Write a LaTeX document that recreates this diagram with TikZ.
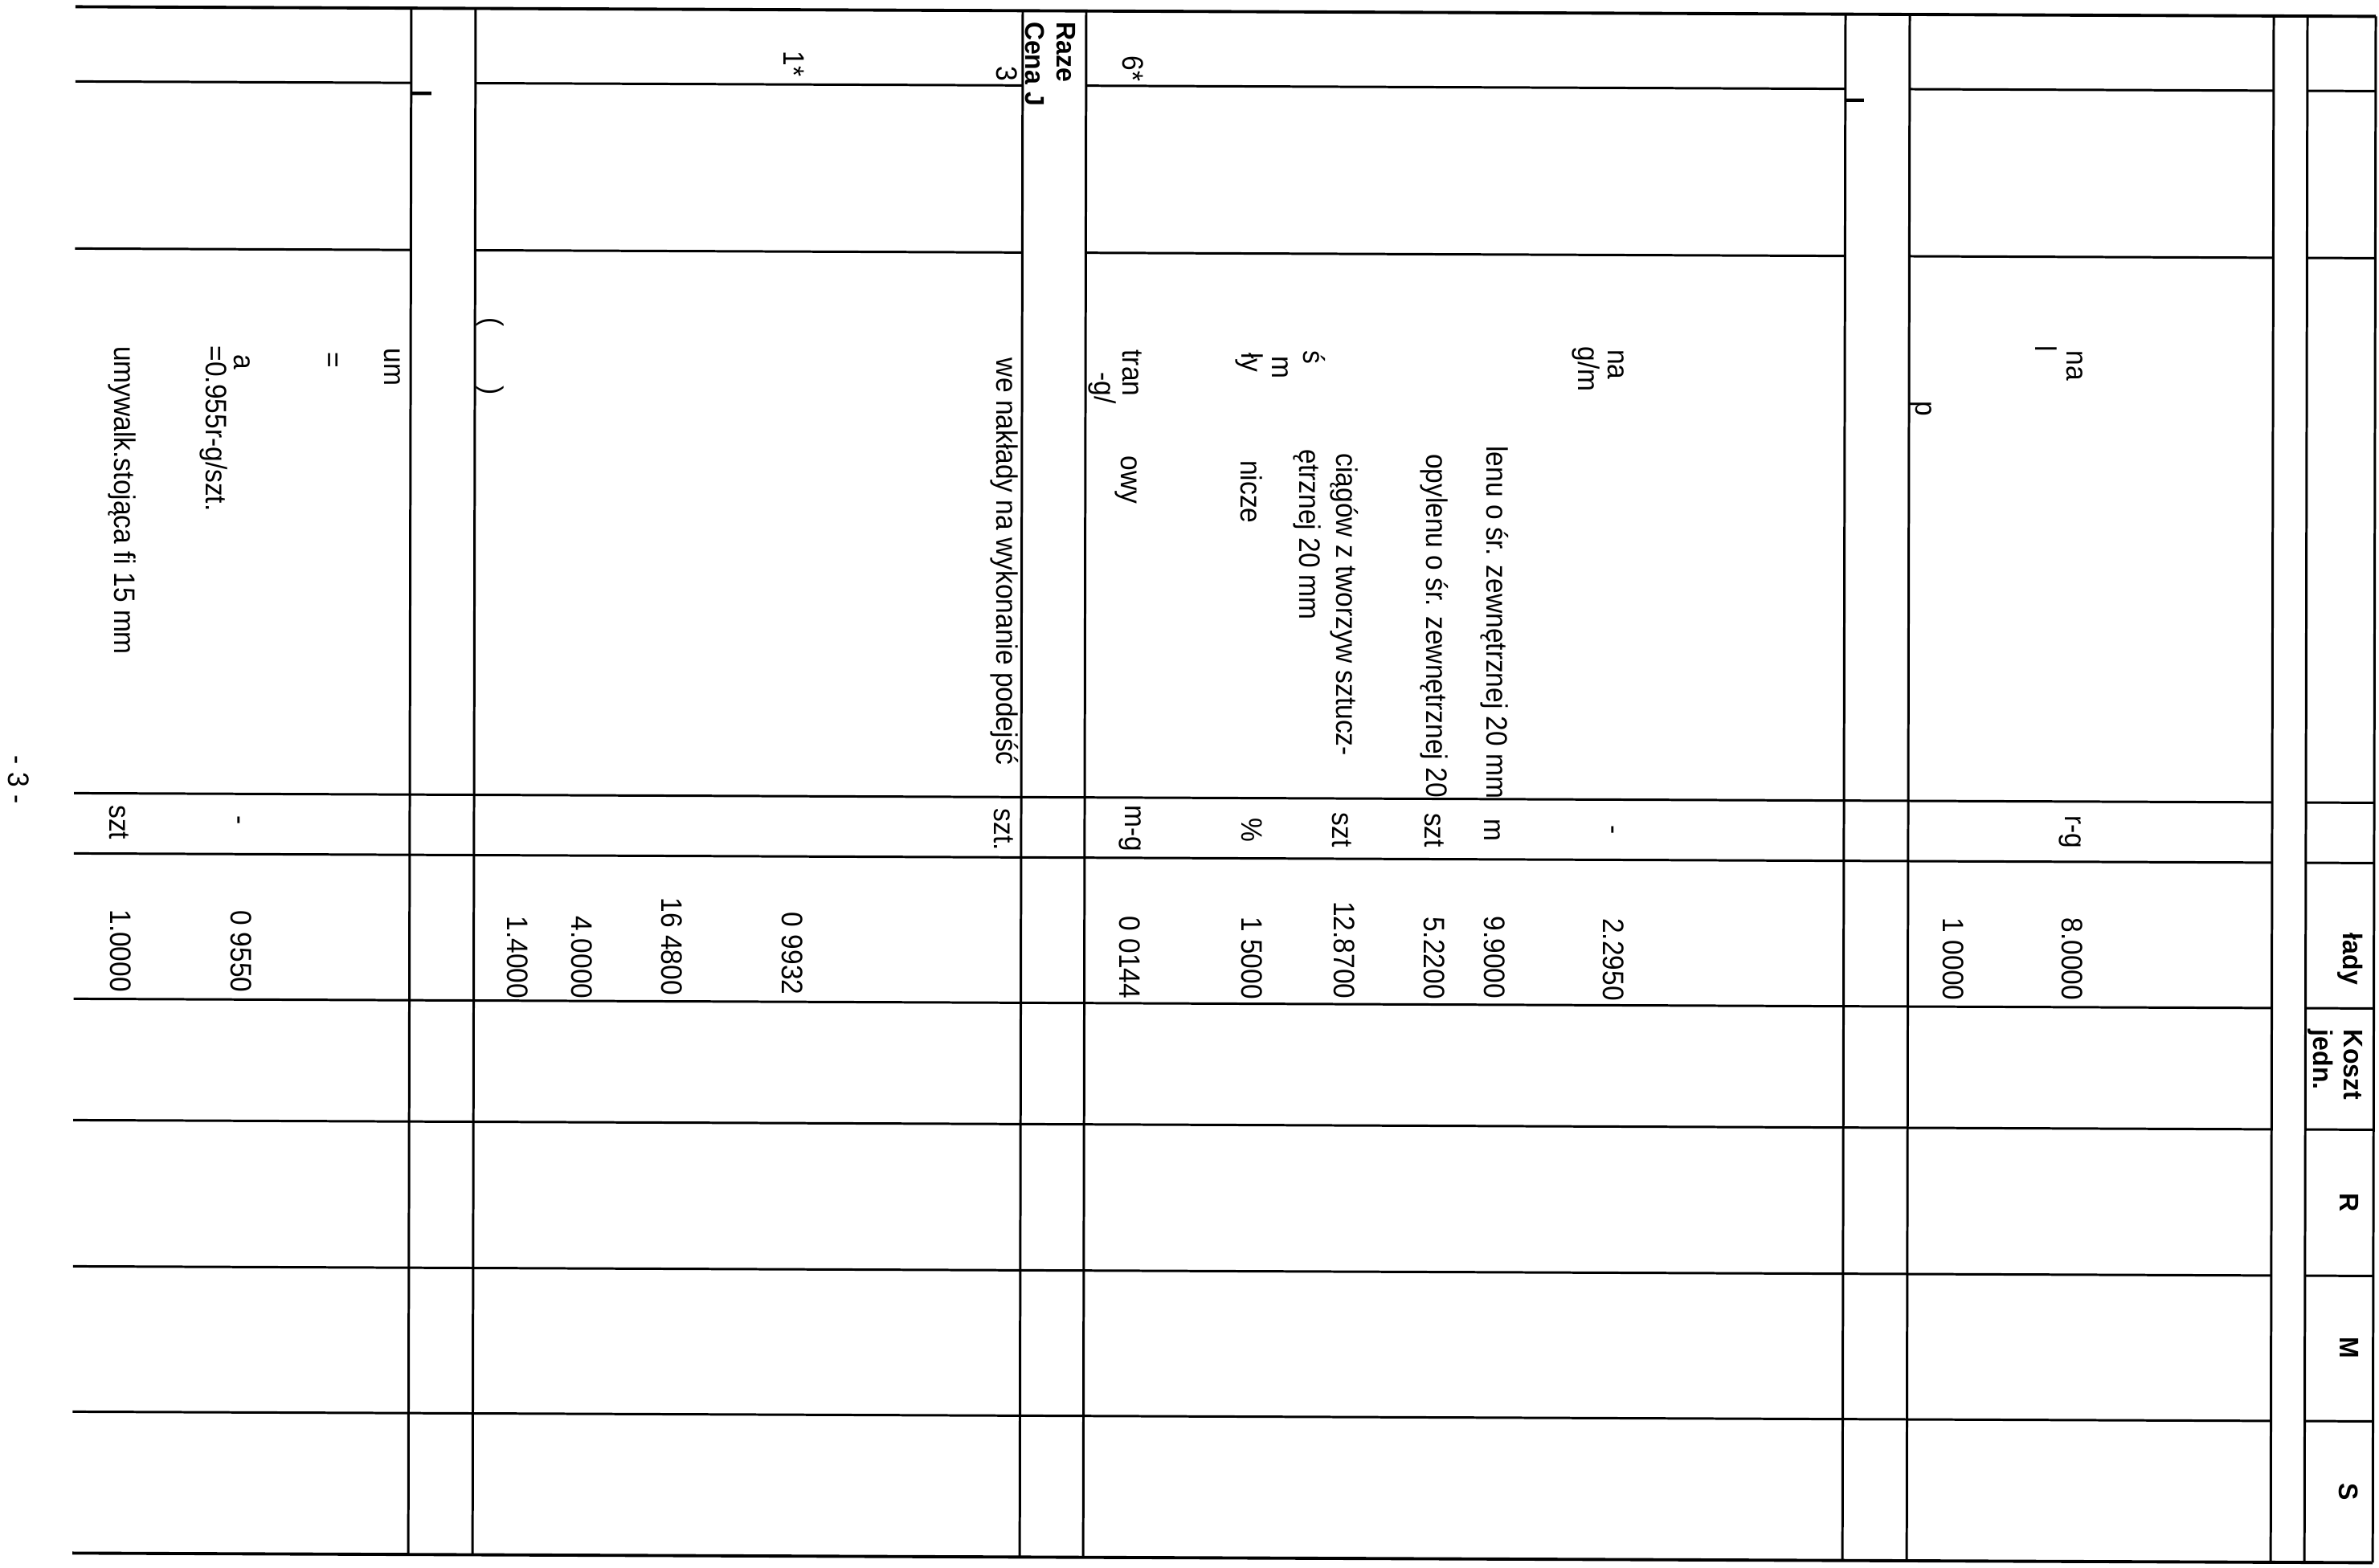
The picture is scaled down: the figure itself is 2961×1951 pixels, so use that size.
\documentclass[tikz,border=0pt]{standalone}
\usepackage{fontspec}
\setmainfont{Liberation Sans}
\begin{document}
\begin{tikzpicture}[x=0.01cm,y=-0.01cm,
  txt/.style={rotate=-90,yscale=1.1,inner sep=0pt,font=\fontsize{9.53pt}{11pt}\selectfont},
  hdr/.style={rotate=-90,yscale=1.05,inner sep=0pt,font=\fontsize{9.1pt}{11pt}\selectfont\bfseries},
  grid/.style={line width=0.85pt},
  frame/.style={line width=1.1pt},
  tickmark/.style={line width=1.2pt}]
\useasboundingbox (0,0) rectangle (2961,1951);
\begin{scope}[cm={1,-0.0042,0.002,1,(0,0)}]
% outer horizontal lines
\draw[frame] (94,8) -- (2957,8);
\draw[frame] (94,1933) -- (2957,1933);
% vertical lines
\foreach \u in {512,592,1273,1352,2297,2377,2830,2872,2957}
  \draw[grid] (\u,8) -- (\u,1933);
% horizontal lines that stop at the row bands
\foreach \v in {101,309}{
  \draw[grid] (94,\v) -- (512,\v);
  \draw[grid] (592,\v) -- (1273,\v);
  \draw[grid] (1352,\v) -- (2297,\v);
  \draw[grid] (2377,\v) -- (2830,\v);
  \draw[grid] (2872,\v) -- (2957,\v);
}
% horizontal lines crossing the bands
\foreach \v in {987,1062,1243,1394,1576,1757}{
  \draw[grid] (94,\v) -- (2830,\v);
  \draw[grid] (2872,\v) -- (2957,\v);
}
% small ticks
\draw[tickmark] (512,114) -- (537,114);
\draw[tickmark] (2297,115) -- (2320,115);

% texts
\node[txt,anchor=base east] (n1) at (976,92) {1*};
\node[txt,anchor=base east] (n3) at (1241,97) {3};
\node[txt,anchor=base east] (n6) at (1398,96) {6*};
\node[hdr,anchor=base west] (raze) at (1316,21) {Raze};
\node[hdr,anchor=base west] (cena) at (1277,21) {Cena J};
\node[txt,anchor=base west] (po) at (601,392) {(};
\node[txt,anchor=base west] (pc) at (601,477) {)};
\node[txt,anchor=base west] (um) at (479,431) {um};
\node[txt,anchor=base west] (eq) at (403,436) {=};
\node[txt,anchor=base west] (a) at (292,440) {a};
\node[txt,anchor=base west] (eqv) at (257,429) {=0.955r-g/szt.};
\node[txt,anchor=base west] (umyw) at (143,430) {umywalk.stojąca fi 15 mm};
\node[txt,anchor=base west] (page) at (12,940) {- 3 -};
\node[txt,anchor=base west] (szt1) at (139,1001) {szt};
\node[txt,anchor=base west] (dash1) at (290,1014) {-};
\node[txt,anchor=base east] (v1) at (140,1235) {1.0000};
\node[txt,anchor=base east] (v2) at (290,1235) {0 9550};
\node[txt,anchor=base east] (v3) at (634,1241) {1.4000};
\node[txt,anchor=base east] (v4) at (714,1241) {4.0000};
\node[txt,anchor=base east] (v5) at (826,1236) {16 4800};
\node[txt,anchor=base east] (v6) at (976,1235) {0 9932};
\node[txt,anchor=base west] (tran) at (1398,429) {tran};
\node[txt,anchor=base west] (gsl) at (1363,457) {-g/};
\node[txt,anchor=base west] (owy) at (1397,561) {owy};
\node[txt,anchor=base west] (s1) at (1623,429) {ś};
\node[txt,anchor=base west] (m1) at (1584,436) {m};
\node[txt,anchor=base west] (ly) at (1546,432) {ły};
\node[txt,anchor=base west] (nicze) at (1546,566) {nicze};
\node[txt,anchor=base west] (ciag) at (1665,557) {ciągów z tworzyw sztucz-};
\node[txt,anchor=base west] (etrz) at (1619,552) {ętrznej 20 mm};
\node[txt,anchor=base west] (opyl) at (1777,557) {opylenu o śr. zewnętrznej 20};
\node[txt,anchor=base west] (lenu) at (1852,547) {lenu o śr. zewnętrznej 20 mm};
\node[txt,anchor=base west] (gm) at (1965,423) {g/m};
\node[txt,anchor=base west] (na1) at (2002,426) {na};
\node[txt,anchor=base west] (wen) at (1241,440) {we nakłady na wykonanie podejść};
\node[txt,anchor=base west] (szt2) at (1239,1001) {szt.};
\node[txt,anchor=base west] (mg) at (1402,996) {m-g};
\node[txt,anchor=base west] (pct) at (1547,1011) {\%};
\node[txt,anchor=base west] (szt3) at (1660,1004) {szt};
\node[txt,anchor=base west] (szt4) at (1775,1004) {szt};
\node[txt,anchor=base west] (m2) at (1849,1011) {m};
\node[txt,anchor=base east] (v7) at (1396,1238) {0 0144};
\node[txt,anchor=base east] (v8) at (1548,1238) {1 5000};
\node[txt,anchor=base east] (v9) at (1663,1237) {12.8700};
\node[txt,anchor=base east] (v10) at (1775,1237) {5.2200};
\node[txt,anchor=base east] (v11) at (1850,1236) {9.9000};
\node[txt,anchor=base west] (dash2) at (2000,1018) {-};
\node[txt,anchor=base east] (v12) at (1998,1238) {2.2950};
\node[txt,anchor=base east] (v13) at (2421,1236) {1 0000};
\node[txt,anchor=base east] (v14) at (2569,1235) {8.0000};
\node[txt,anchor=base west] (rg) at (2572,1004) {r-g};
\node[txt,anchor=base west] (na2) at (2573,425) {na};
\node[txt,anchor=base west] (l1) at (2534,419) {l};
\node[txt,anchor=base west] (p1) at (2385,489) {p};
\node[hdr,anchor=base west] (lady) at (2919,1149) {łady};
\node[hdr,anchor=base west] (koszt) at (2920,1269) {Koszt};
\node[hdr,anchor=base west] (jedn) at (2882,1269) {jedn.};
\node[hdr] (R) at (2927,1485) {R};
\node[hdr] (M) at (2927,1666) {M};
\node[hdr] (S) at (2927,1845) {S};
\end{scope}
\end{tikzpicture}
\end{document}
